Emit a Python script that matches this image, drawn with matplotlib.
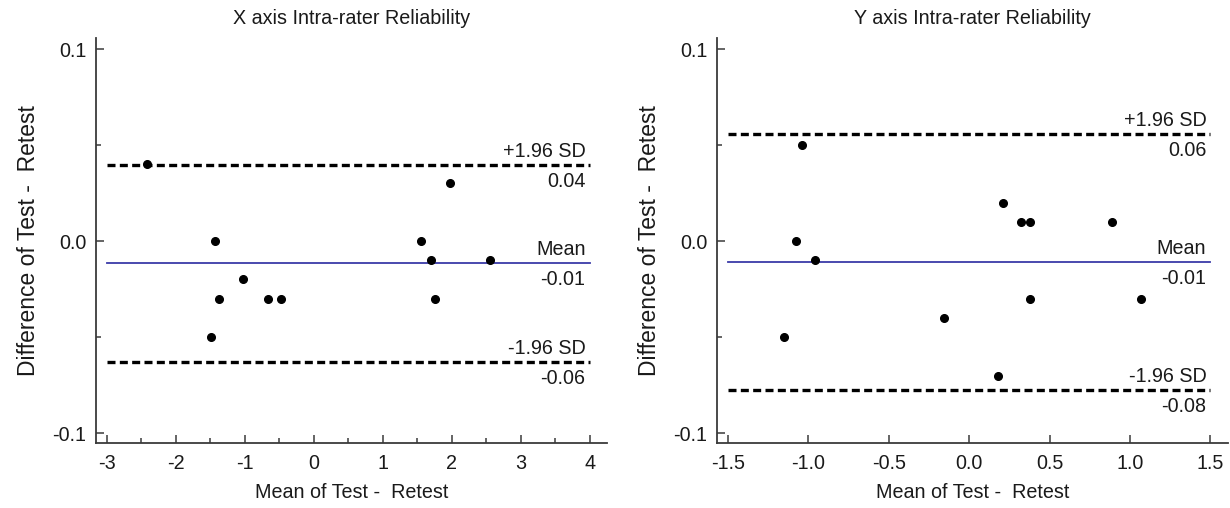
import matplotlib
matplotlib.use("Agg")
import matplotlib.pyplot as plt
from matplotlib.ticker import MultipleLocator, FormatStrFormatter
import numpy as np

plt.rcParams['font.family'] = ['Liberation Sans', 'DejaVu Sans']

# X axis panel: mean of test/retest vs difference
x_mean = [-2.42, -1.44, -1.38, -1.49, -1.03, -0.67, -0.48, 1.56, 1.70, 1.76, 1.98, 2.56]
x_diff = [0.04, 0.00, -0.03, -0.05, -0.02, -0.03, -0.03, 0.00, -0.01, -0.03, 0.03, -0.01]

# Y axis panel
y_mean = [-1.15, -1.08, -1.04, -0.96, -0.16, 0.18, 0.21, 0.32, 0.38, 0.38, 0.89, 1.07]
y_diff = [-0.05, 0.00, 0.05, -0.01, -0.04, -0.07, 0.02, 0.01, 0.01, -0.03, 0.01, -0.03]

titles = ["X axis Intra-rater Reliability", "Y axis Intra-rater Reliability"]
xticks = [np.arange(-3, 5, 1), np.arange(-1.5, 2.0, 0.5)]
xlims = [(-3.16, 4.25), (-1.568, 1.606)]
xfmt = ["%d", "%.1f"]

fs = 14.2
txt_col = "#1a1a1a"

fig = plt.figure(figsize=(12.3, 5.08), dpi=100)
axes = [fig.add_axes([0.078, 0.1285, 0.4155, 0.7965]),
        fig.add_axes([0.583, 0.1285, 0.415, 0.7965])]

spine_col = "#3a3a3a"
for i, (ax, xm, dd) in enumerate(zip(axes, [x_mean, y_mean], [x_diff, y_diff])):
    dd = np.array(dd)
    mu = dd.mean()
    sd = dd.std(ddof=1)
    hi = mu + 1.96 * sd
    lo = mu - 1.96 * sd
    x0, x1 = xticks[i][0], xticks[i][-1]

    ax.plot([x0, x1], [hi, hi], color="black", lw=2.4, dashes=(2.4, 1.3))
    ax.plot([x0, x1], [lo, lo], color="black", lw=2.4, dashes=(2.4, 1.3))
    ax.plot([x0, x1], [mu, mu], color="#3a3aa8", lw=1.3)
    ax.plot(xm, dd, "o", color="black", ms=5.5, zorder=5)

    for yv, top, bottom in [(hi, "+1.96 SD", "%.2f" % hi),
                            (mu, "Mean", "%.2f" % mu),
                            (lo, "-1.96 SD", "%.2f" % lo)]:
        ax.annotate(top, xy=(x1, yv), xytext=(-3, 3), textcoords="offset points",
                    ha="right", va="bottom", fontsize=fs, color=txt_col)
        ax.annotate(bottom, xy=(x1, yv), xytext=(-3, -5), textcoords="offset points",
                    ha="right", va="top", fontsize=fs, color=txt_col)

    ax.set_xlim(*xlims[i])
    ax.set_ylim(-0.105, 0.1057)
    ax.set_xticks(xticks[i])
    ax.xaxis.set_major_formatter(FormatStrFormatter(xfmt[i]))
    if i == 0:
        ax.xaxis.set_minor_locator(MultipleLocator(0.5))
    ax.set_yticks([-0.1, 0.0, 0.1])
    ax.yaxis.set_minor_locator(MultipleLocator(0.05))
    ax.yaxis.set_major_formatter(FormatStrFormatter("%.1f"))

    for s in ["top", "right"]:
        ax.spines[s].set_visible(False)
    for s in ["left", "bottom"]:
        ax.spines[s].set_color(spine_col)
        ax.spines[s].set_linewidth(1.3)
    ax.tick_params(which="both", direction="in", color=spine_col, width=1.1,
                   labelsize=fs, labelcolor=txt_col)
    ax.tick_params(which="major", length=6)
    ax.tick_params(which="minor", length=3.5)
    ax.tick_params(axis="y", pad=7)
    ax.tick_params(axis="x", pad=8)

    ax.set_title(titles[i], fontsize=fs, color=txt_col, pad=10)
    ax.set_xlabel("Mean of Test -  Retest", fontsize=fs, color=txt_col, labelpad=7)
    ax.set_ylabel("Difference of Test -  Retest", fontsize=16.5, color=txt_col, labelpad=9)

fig.savefig("out.png", dpi=100)
